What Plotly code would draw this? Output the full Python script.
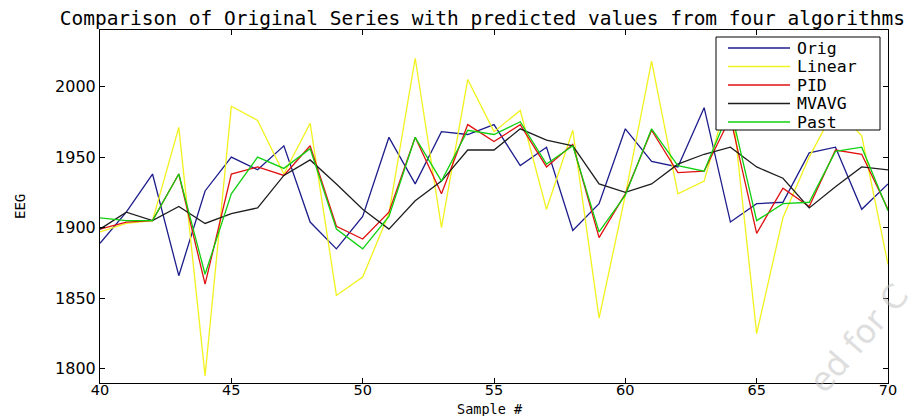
import plotly.graph_objects as go

samples = [40, 41, 42, 43, 44, 45, 46, 47, 48, 49, 50, 51, 52, 53, 54, 55,
           56, 57, 58, 59, 60, 61, 62, 63, 64, 65, 66, 67, 68, 69, 70]

orig = [1889, 1911, 1938, 1866, 1926, 1950, 1941, 1958, 1904, 1885, 1908, 1964, 1931, 1968, 1966, 1973,
        1944, 1957, 1898, 1917, 1970, 1947, 1943, 1985, 1904, 1917, 1918, 1953, 1957, 1913, 1931]
linear = [1897, 1903, 1905, 1971, 1795, 1986, 1976, 1938, 1974, 1852, 1865, 1910, 2020, 1900, 2005, 1968,
          1983, 1913, 1969, 1836, 1923, 2018, 1924, 1933, 1998, 1825, 1907, 1950, 1985, 1965, 1874]
pid = [1899, 1904, 1905, 1938, 1860, 1938, 1943, 1937, 1958, 1901, 1892, 1911, 1964, 1924, 1973, 1961,
       1973, 1943, 1959, 1893, 1924, 1969, 1939, 1940, 1978, 1896, 1928, 1915, 1955, 1952, 1913]
mvavg = [1899, 1911, 1905, 1915, 1903, 1910, 1914, 1937, 1948, 1931, 1913, 1899, 1919, 1933, 1955, 1955,
         1970, 1962, 1958, 1931, 1925, 1931, 1945, 1952, 1957, 1943, 1935, 1914, 1929, 1943, 1941]
past = [1907, 1905, 1905, 1938, 1867, 1924, 1950, 1942, 1956, 1899, 1885, 1908, 1964, 1933, 1969, 1966,
        1975, 1945, 1958, 1897, 1923, 1970, 1944, 1940, 1985, 1905, 1917, 1918, 1954, 1957, 1912]

x_ticks = [40, 45, 50, 55, 60, 65, 70]
y_ticks = [1800, 1850, 1900, 1950, 2000]

series = [
    ("Orig", orig, "#1c1c8c"),
    ("Linear", linear, "#f2f21e"),
    ("PID", pid, "#e01010"),
    ("MVAVG", mvavg, "#1e1e1e"),
    ("Past", past, "#10d010"),
]

MONO = "DejaVu Sans Mono"
SANS = "DejaVu Sans"

# plot area in pixels: left 100, right 888, top 30, bottom 383
L, R, T, B = 100, 888, 30, 383
W, H = R - L, B - T


def px(xp):
    return (xp - L) / W


def py(yp):
    return (B - yp) / H


fig = go.Figure()
for name, vals, col in series:
    fig.add_trace(go.Scatter(x=samples, y=vals, mode="lines", name=name,
                             line=dict(color=col, width=1.3), showlegend=False))

axis_common = dict(showline=True, linecolor="black", linewidth=1, mirror="ticks",
                   ticks="inside", ticklen=5, tickcolor="black", showgrid=False,
                   zeroline=False, automargin=False)

fig.update_layout(
    width=924, height=416,
    margin=dict(l=L, r=924 - R, t=T, b=416 - B),
    paper_bgcolor="white", plot_bgcolor="white",
    title=dict(text="Comparison of Original Series with predicted values from four algorithms",
               x=0.522, xanchor="center", y=0.957, yanchor="middle",
               font=dict(family=MONO, size=19.5, color="black")),
    xaxis=dict(range=[40, 70], tickvals=x_ticks, ticklabelstandoff=-6,
               tickfont=dict(family=SANS, size=14.5, color="black"), **axis_common),
    yaxis=dict(range=[1790, 2040], tickvals=y_ticks,
               tickfont=dict(family=SANS, size=16, color="black"), **axis_common),
    showlegend=False,
)

# axis titles
fig.add_annotation(text="Sample #", xref="paper", yref="paper", x=px(490), y=py(409),
                   xanchor="center", yanchor="middle", showarrow=False, borderpad=0,
                   font=dict(family=MONO, size=13.5, color="black"))
fig.add_annotation(text="EEG", xref="paper", yref="paper", x=px(20), y=py(207),
                   xanchor="center", yanchor="middle", showarrow=False, textangle=-90,
                   font=dict(family=MONO, size=14, color="black"))

# legend box (Matlab style)
fig.add_shape(type="rect", xref="paper", yref="paper",
              x0=px(716), x1=px(880), y0=py(130), y1=py(37),
              line=dict(color="black", width=1), fillcolor="white", layer="above")
row_y = [48, 66.5, 85, 103.5, 122]
for (name, vals, col), ry in zip(series, row_y):
    fig.add_shape(type="line", xref="paper", yref="paper",
                  x0=px(728), x1=px(790), y0=py(ry), y1=py(ry),
                  line=dict(color=col, width=1.3), layer="above")
    fig.add_annotation(text=name, xref="paper", yref="paper", x=px(796), y=py(ry),
                       xanchor="left", yanchor="middle", showarrow=False, borderpad=0,
                       font=dict(family=MONO, size=16.5, color="black"))

# faint watermark fragment
fig.add_annotation(text="ed for C", xref="paper", yref="paper", x=1.037, y=-0.053,
                   showarrow=False, textangle=-49, borderpad=0,
                   font=dict(family=SANS, size=33, color="rgba(190,190,190,0.5)"))

fig.write_html("out.html")
